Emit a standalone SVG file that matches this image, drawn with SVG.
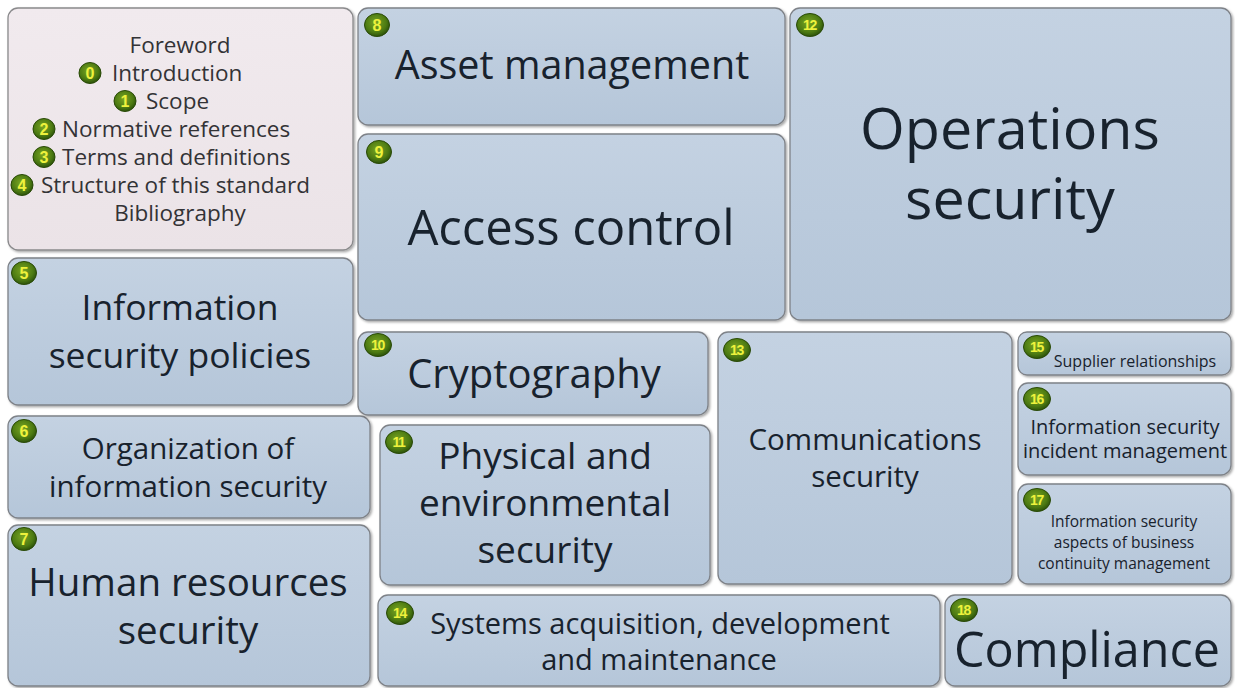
<svg xmlns="http://www.w3.org/2000/svg" width="1235" height="688" viewBox="0 0 1235 688">
  <defs>
    <linearGradient id="blueFill" x1="0" y1="0" x2="0" y2="1">
      <stop offset="0" stop-color="#c4d2e2"/>
      <stop offset="1" stop-color="#b5c6d9"/>
    </linearGradient>
    <linearGradient id="pinkFill" x1="0" y1="0" x2="0" y2="1">
      <stop offset="0" stop-color="#f1eaee"/>
      <stop offset="1" stop-color="#ebe3e7"/>
    </linearGradient>
    <radialGradient id="badgeFill" cx="0.45" cy="0.4" r="0.6">
      <stop offset="0" stop-color="#7aa523"/>
      <stop offset="0.7" stop-color="#4c7a12"/>
      <stop offset="1" stop-color="#2c520a"/>
    </radialGradient>
    <filter id="shadow" x="-5%" y="-5%" width="110%" height="115%">
      <feDropShadow dx="1.5" dy="1.5" stdDeviation="1.2" flood-color="#000" flood-opacity="0.35"/>
    </filter>
  </defs>
  <style>
    .box { fill: url(#blueFill); stroke: #7e8288; stroke-width: 1.3; filter: url(#shadow); }
    .front { fill: url(#pinkFill); stroke: #8a8a8c; stroke-width: 1.3; filter: url(#shadow); }
    .lbl { font-family: "Open Sans", "Noto Sans", sans-serif; fill: #18222d; text-anchor: middle; }
    .fm { font-family: "Open Sans", "Noto Sans", sans-serif; fill: #333336; font-size: 22.5px; }
    .badge ellipse { fill: url(#badgeFill); stroke: #2a4a08; stroke-width: 1; }
    .badge text { font-family: "Liberation Sans", Arial, sans-serif; font-weight: bold; fill: #eef23c; text-anchor: middle; }
    .b1 { font-size: 16px; }
    .b2 { font-size: 14px; letter-spacing: -1.3px; }
  </style>

  <rect width="1235" height="688" fill="#ffffff"/>

  <!-- front matter: clauses 0 to 4 -->
  <g id="front-matter">
    <rect class="front" x="8" y="8" width="345" height="242" rx="10"/>
    <text class="fm" x="180" y="53" text-anchor="middle">Foreword</text>
    <g class="badge"><ellipse cx="90" cy="73" rx="11" ry="10.5"/><text class="b1" x="90" y="78.8">0</text></g>
    <text class="fm" x="112" y="81">Introduction</text>
    <g class="badge"><ellipse cx="125" cy="101" rx="11" ry="10.5"/><text class="b1" x="125" y="106.8">1</text></g>
    <text class="fm" x="146" y="109">Scope</text>
    <g class="badge"><ellipse cx="44" cy="129" rx="11" ry="10.5"/><text class="b1" x="44" y="134.8">2</text></g>
    <text class="fm" x="62" y="137">Normative references</text>
    <g class="badge"><ellipse cx="44" cy="157" rx="11" ry="10.5"/><text class="b1" x="44" y="162.8">3</text></g>
    <text class="fm" x="62" y="165">Terms and definitions</text>
    <g class="badge"><ellipse cx="22" cy="185" rx="11" ry="10.5"/><text class="b1" x="22" y="190.8">4</text></g>
    <text class="fm" x="41" y="193">Structure of this standard</text>
    <text class="fm" x="180" y="221" text-anchor="middle">Bibliography</text>
  </g>

  <g id="clause-5">
    <rect class="box" x="8" y="258" width="345" height="147" rx="10"/>
    <g class="badge"><ellipse cx="24" cy="273" rx="12.5" ry="11.5"/><text class="b1" x="24" y="278.8">5</text></g>
    <text class="lbl" x="180" y="320" font-size="35.5">Information</text>
    <text class="lbl" x="180" y="368" font-size="35.5">security policies</text>
  </g>

  <g id="clause-6">
    <rect class="box" x="8" y="416" width="362" height="102" rx="10"/>
    <g class="badge"><ellipse cx="24" cy="431" rx="12.5" ry="11.5"/><text class="b1" x="24" y="436.8">6</text></g>
    <text class="lbl" x="188" y="459" font-size="29.5">Organization of</text>
    <text class="lbl" x="188" y="497" font-size="29.5">information security</text>
  </g>

  <g id="clause-7">
    <rect class="box" x="8" y="525" width="362" height="161" rx="10"/>
    <g class="badge"><ellipse cx="24" cy="539" rx="12.5" ry="11.5"/><text class="b1" x="24" y="544.8">7</text></g>
    <text class="lbl" x="188" y="596" font-size="38.5">Human resources</text>
    <text class="lbl" x="188" y="644" font-size="38.5">security</text>
  </g>

  <g id="clause-8">
    <rect class="box" x="358" y="8" width="427" height="117" rx="10"/>
    <g class="badge"><ellipse cx="377" cy="25" rx="12.5" ry="11.5"/><text class="b1" x="377" y="30.8">8</text></g>
    <text class="lbl" x="572" y="79" font-size="39.5">Asset management</text>
  </g>

  <g id="clause-9">
    <rect class="box" x="358" y="134" width="427" height="186" rx="10"/>
    <g class="badge"><ellipse cx="379" cy="152" rx="12.5" ry="11.5"/><text class="b1" x="379" y="157.8">9</text></g>
    <text class="lbl" x="571" y="245" font-size="49">Access control</text>
  </g>

  <g id="clause-12">
    <rect class="box" x="790" y="8" width="441" height="312" rx="10"/>
    <g class="badge"><ellipse cx="810" cy="25" rx="13.5" ry="11.5"/><text class="b2" x="809.5" y="30">12</text></g>
    <text class="lbl" x="1010" y="149" font-size="57.5">Operations</text>
    <text class="lbl" x="1010" y="219" font-size="57.5">security</text>
  </g>

  <g id="clause-10">
    <rect class="box" x="358" y="332" width="350" height="83" rx="10"/>
    <g class="badge"><ellipse cx="378" cy="345" rx="13.5" ry="11.5"/><text class="b2" x="377.5" y="350">10</text></g>
    <text class="lbl" x="534" y="388" font-size="40">Cryptography</text>
  </g>

  <g id="clause-11">
    <rect class="box" x="380" y="425" width="330" height="160" rx="10"/>
    <g class="badge"><ellipse cx="399" cy="442" rx="13.5" ry="11.5"/><text class="b2" x="398.5" y="447">11</text></g>
    <text class="lbl" x="545" y="469" font-size="37">Physical and</text>
    <text class="lbl" x="545" y="516" font-size="37">environmental</text>
    <text class="lbl" x="545" y="563" font-size="37">security</text>
  </g>

  <g id="clause-13">
    <rect class="box" x="718" y="332" width="294" height="252" rx="10"/>
    <g class="badge"><ellipse cx="737" cy="350" rx="13.5" ry="11.5"/><text class="b2" x="736.5" y="355">13</text></g>
    <text class="lbl" x="865" y="450" font-size="29.5">Communications</text>
    <text class="lbl" x="865" y="487" font-size="29.5">security</text>
  </g>

  <g id="clause-15">
    <rect class="box" x="1018" y="332" width="213" height="43" rx="9"/>
    <g class="badge"><ellipse cx="1037" cy="347" rx="13.5" ry="11.5"/><text class="b2" x="1036.5" y="352">15</text></g>
    <text class="lbl" x="1135" y="367" font-size="16">Supplier relationships</text>
  </g>

  <g id="clause-16">
    <rect class="box" x="1018" y="383" width="213" height="92" rx="10"/>
    <g class="badge"><ellipse cx="1037" cy="399" rx="13.5" ry="11.5"/><text class="b2" x="1036.5" y="404">16</text></g>
    <text class="lbl" x="1125" y="434" font-size="20">Information security</text>
    <text class="lbl" x="1125" y="458" font-size="20">incident management</text>
  </g>

  <g id="clause-17">
    <rect class="box" x="1018" y="484" width="213" height="100" rx="10"/>
    <g class="badge"><ellipse cx="1037" cy="500" rx="13.5" ry="11.5"/><text class="b2" x="1036.5" y="505">17</text></g>
    <text class="lbl" x="1124" y="527" font-size="15.5">Information security</text>
    <text class="lbl" x="1124" y="548" font-size="15.5">aspects of business</text>
    <text class="lbl" x="1124" y="569" font-size="15.5">continuity management</text>
  </g>

  <g id="clause-14">
    <rect class="box" x="378" y="595" width="562" height="91" rx="10"/>
    <g class="badge"><ellipse cx="400" cy="613" rx="13.5" ry="11.5"/><text class="b2" x="399.5" y="618">14</text></g>
    <text class="lbl" x="660" y="634" font-size="29">Systems acquisition, development</text>
    <text class="lbl" x="659" y="670" font-size="29">and maintenance</text>
  </g>

  <g id="clause-18">
    <rect class="box" x="945" y="595" width="286" height="91" rx="10"/>
    <g class="badge"><ellipse cx="964" cy="610" rx="13.5" ry="11.5"/><text class="b2" x="963.5" y="615">18</text></g>
    <text class="lbl" x="1087" y="667" font-size="48.5">Compliance</text>
  </g>

  <!-- tiles only; no connecting lines between them -->
  <g id="connectors"/>
</svg>
